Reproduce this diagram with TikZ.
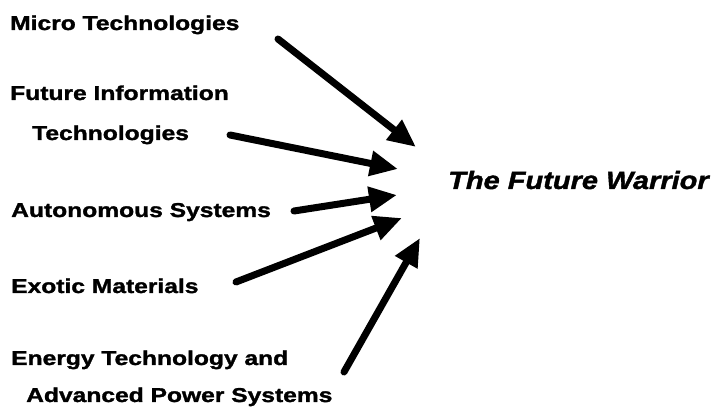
\documentclass[tikz,border=0pt]{standalone}
\usepackage{fontspec}
\setmainfont{Liberation Sans}
\newfontfamily\labfont[FakeStretch=1.23,FakeBold=1.5]{Liberation Sans}
\newfontfamily\titfont[FakeStretch=1.16,FakeBold=1.5]{Liberation Sans}
\usetikzlibrary{arrows.meta}
\begin{document}
\begin{tikzpicture}[x=1pt,y=-1pt,
  lab/.style={anchor=base west,inner sep=0pt,align=left,font=\labfont\bfseries\fontsize{20}{40}\selectfont},
  tit/.style={anchor=base west,inner sep=0pt,font=\titfont\bfseries\itshape\fontsize{25}{30}\selectfont},
  bigarrow/.style={line width=7pt,line cap=round,-{Triangle[length=28pt,width=24pt]}}]
\useasboundingbox (0,0) rectangle (713,411);
\node[lab] (micro) at (10,30) {Micro Technologies};
\node[lab] (info) at (10,140) {Future Information\\\hspace{22pt}Technologies};
\node[lab] (auto) at (11,217) {Autonomous Systems};
\node[lab] (exotic) at (11,293) {Exotic Materials};
\node[lab] (energy) at (11,402) {Energy Technology and\\[-3pt]\hspace{15pt}Advanced Power Systems};
\node[tit] (warrior) at (448,189) {The Future Warrior};
\coordinate (t1) at (278,39);  \coordinate (h1) at (416,147);
\coordinate (t2) at (230,135); \coordinate (h2) at (398,169);
\coordinate (t3) at (294,211); \coordinate (h3) at (397,195);
\coordinate (t4) at (236,282); \coordinate (h4) at (402,218);
\coordinate (t5) at (344,372); \coordinate (h5) at (420,238);
\draw[bigarrow] (t1) -- (h1);
\draw[bigarrow] (t2) -- (h2);
\draw[bigarrow] (t3) -- (h3);
\draw[bigarrow] (t4) -- (h4);
\draw[bigarrow] (t5) -- (h5);
\end{tikzpicture}
\end{document}
